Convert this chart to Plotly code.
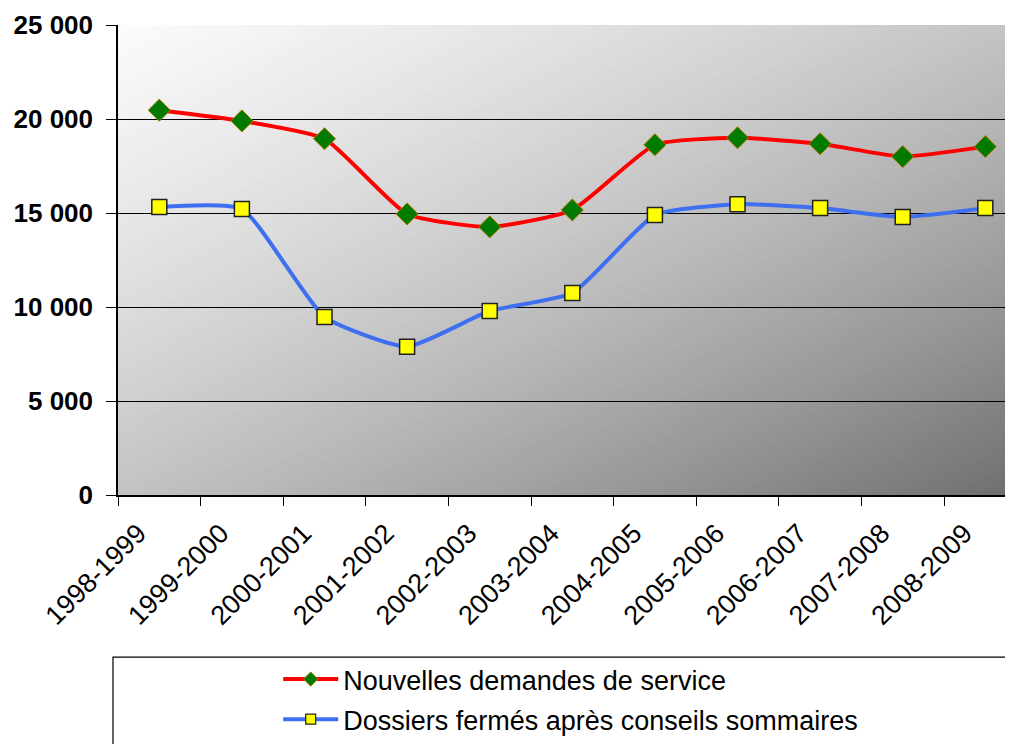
import plotly.graph_objects as go

categories = ["1998-1999", "1999-2000", "2000-2001", "2001-2002", "2002-2003",
              "2003-2004", "2004-2005", "2005-2006", "2006-2007", "2007-2008", "2008-2009"]
nouvelles = [20470, 19900, 18950, 14950, 14260, 15160, 18630, 19000, 18680, 18000, 18530]
dossiers = [15320, 15210, 9470, 7890, 9790, 10740, 14890, 15470, 15260, 14790, 15260]
y_ticks = [0, 5000, 10000, 15000, 20000, 25000]

name_red = "Nouvelles demandes de service"
name_blue = "Dossiers fermés après conseils sommaires"

FONT = "Liberation Sans, Arial, sans-serif"

red_line = dict(color="#ff0000", width=4, shape="spline", smoothing=0.5)
blue_line = dict(color="#3d6ff0", width=4, shape="spline", smoothing=0.5)

fig = go.Figure()
fig.add_trace(go.Scatter(
    x=categories, y=nouvelles, name=name_red, mode="lines+markers", showlegend=False,
    line=red_line,
    marker=dict(symbol="diamond", size=17, color="#007a00",
                line=dict(color="#b07a00", width=1)),
))
fig.add_trace(go.Scatter(
    x=categories, y=dossiers, name=name_blue, mode="lines+markers", showlegend=False,
    line=blue_line,
    marker=dict(symbol="square", size=15, color="#ffff00",
                line=dict(color="#222222", width=1.5)),
))
# legend entries (smaller legend symbols, as in the original)
fig.add_trace(go.Scatter(
    x=[None], y=[None], name=name_red, mode="lines+markers", legendgroup="a",
    line=red_line,
    marker=dict(symbol="diamond", size=11, color="#007a00",
                line=dict(color="#b07a00", width=1)),
))
fig.add_trace(go.Scatter(
    x=[None], y=[None], name=name_blue, mode="lines+markers", legendgroup="b",
    line=blue_line,
    marker=dict(symbol="square", size=10, color="#ffff00",
                line=dict(color="#222222", width=1.2)),
))

# diagonal gradient background built from clipped bands
def clip(poly, a, b, c):
    # keep points where a*u + b*w >= c
    out = []
    n = len(poly)
    for i in range(n):
        p, q = poly[i], poly[(i + 1) % n]
        fp = a * p[0] + b * p[1] - c
        fq = a * q[0] + b * q[1] - c
        if fp >= 0:
            out.append(p)
        if (fp >= 0) != (fq >= 0):
            t = fp / (fp - fq)
            out.append((p[0] + t * (q[0] - p[0]), p[1] + t * (q[1] - p[1])))
    return out

shapes = []
N = 90
square = [(0, 0), (1, 0), (1, 1), (0, 1)]  # (u, w) with w measured from top
for i in range(N):
    t0 = 2 * i / N
    t1 = 2 * (i + 1) / N + 0.002
    poly = clip(square, 1, 1, t0)
    poly = clip(poly, -1, -1, -t1)
    if len(poly) < 3:
        continue
    tm = 2 * (i + 0.5) / N
    g = int(round(251 - 42 * tm - 14 * tm * tm))
    g = max(0, min(255, g))
    path = "M " + " L ".join(f"{u:.5f},{1 - w:.5f}" for u, w in poly) + " Z"
    shapes.append(dict(type="path", path=path, xref="x domain", yref="y domain",
                       fillcolor=f"rgb({g},{g},{g})", line=dict(width=0),
                       layer="below"))

# legend frame
shapes.append(dict(type="rect", xref="paper", yref="paper",
                   x0=-0.0056, x1=1.02, y0=-0.345, y1=-0.62,
                   line=dict(color="#000000", width=1.2), fillcolor="rgba(0,0,0,0)"))

fig.update_layout(
    width=1005, height=736,
    margin=dict(l=110, r=0, t=17, b=232),
    paper_bgcolor="#ffffff",
    plot_bgcolor="rgba(0,0,0,0)",
    separators=". ",
    font=dict(family=FONT, color="#000000"),
    shapes=shapes,
    showlegend=True,
    legend=dict(
        x=0.179, y=-0.341, xanchor="left", yanchor="top",
        bgcolor="rgba(0,0,0,0)", borderwidth=0,
        font=dict(family=FONT, size=27, color="#000000"),
        itemwidth=55, tracegroupgap=2,
    ),
    xaxis=dict(
        type="category", range=[-0.5, 10.335], automargin=False,
        tickson="boundaries", ticks="outside", ticklen=9, tickcolor="#000000",
        showgrid=False, showline=True, linecolor="#000000", linewidth=1.5,
        tickangle=-45, tickfont=dict(family=FONT, size=27, color="#000000"),
        ticklabelstandoff=10, ticklabelshift=-21,
    ),
    yaxis=dict(
        range=[0, 25000], tickvals=y_ticks, tickformat=",d", automargin=False,
        ticks="outside", ticklen=10, tickcolor="#000000",
        showgrid=True, gridcolor="#000000", gridwidth=1,
        showline=True, linecolor="#000000", linewidth=1.5,
        zeroline=False,
        tickfont=dict(family=FONT, size=26, color="#000000", weight="bold"),
        ticklabelstandoff=8,
    ),
)

fig.write_html("out.html")
